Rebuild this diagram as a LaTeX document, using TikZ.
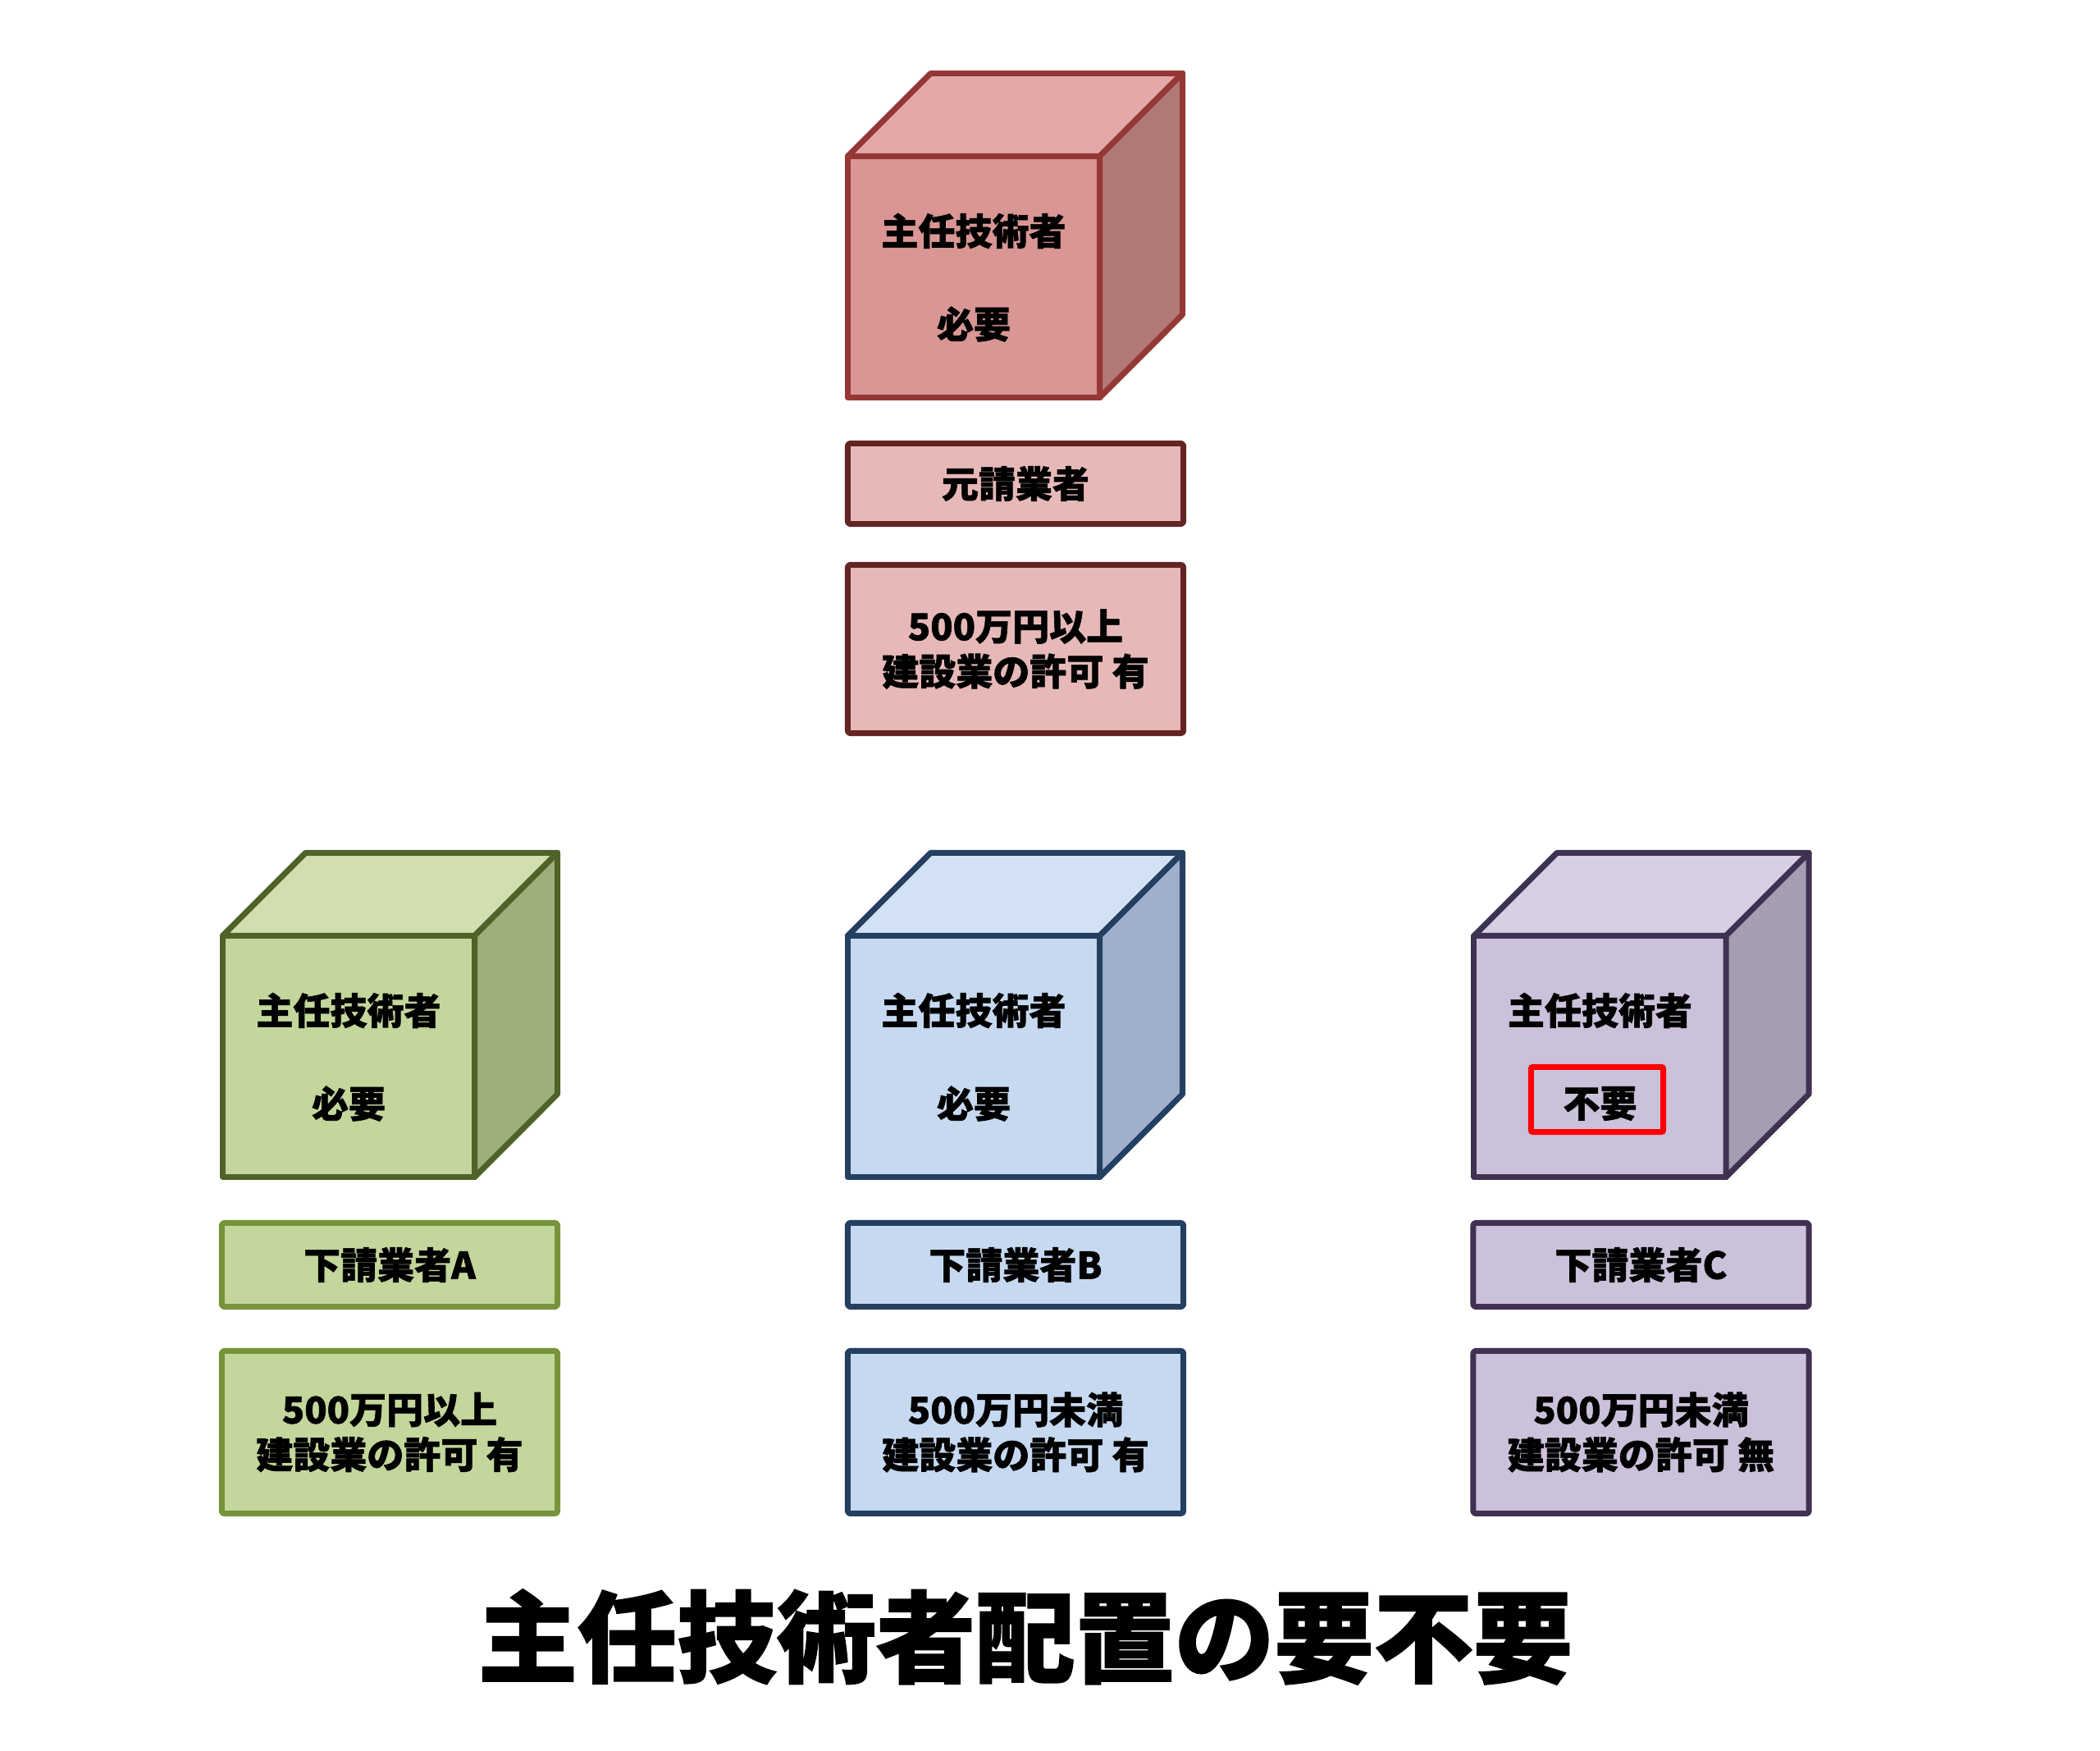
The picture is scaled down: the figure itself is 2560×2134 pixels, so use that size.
\documentclass[tikz,border=0pt]{standalone}
\usepackage{fontspec}
\newfontfamily\jp{Noto Sans CJK JP}[BoldFeatures={FakeBold=1.3}]
\newcommand\jpfont{\jp\bfseries\fontsize{12.8pt}{15.6pt}\selectfont}
\newcommand\jptitle{\jp\bfseries\fontsize{34.5pt}{40pt}\selectfont}
\definecolor{rL}{HTML}{953735}\definecolor{rF}{HTML}{D99694}\definecolor{rT}{HTML}{E3A9A8}\definecolor{rS}{HTML}{B07876}
\definecolor{rB}{HTML}{E6B9B8}\definecolor{rD}{HTML}{632523}
\definecolor{gL}{HTML}{4F6228}\definecolor{gF}{HTML}{C3D69B}\definecolor{gT}{HTML}{D0DEB0}\definecolor{gS}{HTML}{9FAF7C}
\definecolor{gB}{HTML}{C3D69B}\definecolor{gD}{HTML}{77933C}
\definecolor{bL}{HTML}{243F60}\definecolor{bF}{HTML}{C6D9F1}\definecolor{bT}{HTML}{D2E1F5}\definecolor{bS}{HTML}{9FB0CB}
\definecolor{bB}{HTML}{C6D9F1}\definecolor{bD}{HTML}{243F60}
\definecolor{pL}{HTML}{3F3151}\definecolor{pF}{HTML}{CCC1DA}\definecolor{pT}{HTML}{D7CFE4}\definecolor{pS}{HTML}{A59DB2}
\definecolor{pB}{HTML}{CCC1DA}\definecolor{pD}{HTML}{403152}
\newcommand{\mycube}[4]{%
  \node[cubefront, fill=#4F, draw=#4L] (#1) at (#2,#3) {};
  \draw[lw, fill=#4T, draw=#4L] (#1.north west) -- ++(101,-101) -- ++(307,0) -- (#1.north east) -- cycle;
  \draw[lw, fill=#4S, draw=#4L] (#1.north east) -- ++(101,-101) -- ++(0,294) -- (#1.south east) -- cycle;
  \node[txt] (#1t) at ([yshift=-0.91cm]#1.north) {主任技術者};
}
\begin{document}
\begin{tikzpicture}[x=0.01cm,y=-0.01cm,
  lw/.style={line width=0.07cm, line join=round},
  cubefront/.style={lw, rectangle, minimum width=3.07cm, minimum height=2.94cm, inner sep=0pt, outer sep=0pt},
  lbl/.style={lw, rectangle, rounded corners=0.03cm, minimum width=4.09cm, inner sep=0pt, outer sep=0pt, font=\jpfont, align=center},
  txt/.style={font=\jpfont, inner sep=0pt}]
\useasboundingbox[fill=white] (0,0) rectangle (2560,2134);

% top: prime contractor
\mycube{cR}{1187}{337.5}{r}
\node[txt] (cRn) at ([yshift=-2.045cm]cR.north) {必要};
\node[lbl, fill=rB, draw=rD, minimum height=0.98cm] (lR1) at (1238,589.5) {元請業者};
\node[lbl, fill=rB, draw=rD, minimum height=2.05cm] (lR2) at (1238,791) {500万円以上\\建設業の許可 有};

% subcontractor A
\mycube{cA}{425}{1287.5}{g}
\node[txt] (cAn) at ([yshift=-2.045cm]cA.north) {必要};
\node[lbl, fill=gB, draw=gD, minimum height=1.02cm] (lA1) at (475,1541.5) {下請業者A};
\node[lbl, fill=gB, draw=gD, minimum height=1.98cm] (lA2) at (475,1745.5) {500万円以上\\建設業の許可 有};

% subcontractor B
\mycube{cB}{1187}{1287.5}{b}
\node[txt] (cBn) at ([yshift=-2.045cm]cB.north) {必要};
\node[lbl, fill=bB, draw=bD, minimum height=1.02cm] (lB1) at (1238,1541.5) {下請業者B};
\node[lbl, fill=bB, draw=bD, minimum height=1.98cm] (lB2) at (1238,1745.5) {500万円未満\\建設業の許可 有};

% subcontractor C
\mycube{cC}{1950.5}{1287.5}{p}
\node[txt] (cCn) at ([yshift=-2.045cm]cC.north) {不要};
\node[draw=red, line width=0.07cm, rounded corners=0.02cm, minimum width=1.61cm, minimum height=0.79cm, inner sep=0pt] (redbox) at (1947,1340) {};
\node[lbl, fill=pB, draw=pD, minimum height=1.02cm] (lC1) at (2000.5,1541.5) {下請業者C};
\node[lbl, fill=pB, draw=pD, minimum height=1.98cm] (lC2) at (2000.5,1745.5) {500万円未満\\建設業の許可 無};

% title
\node[font=\jptitle, inner sep=0pt] (title) at (1250,1995) {主任技術者配置の要不要};
\end{tikzpicture}
\end{document}
